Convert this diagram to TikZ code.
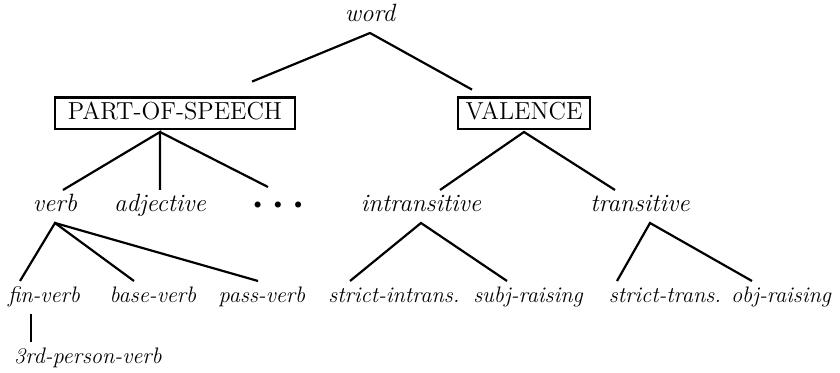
\documentclass[tikz,border=0pt]{standalone}
\usepackage{tikz}
\usetikzlibrary{positioning}

\begin{document}
\begin{tikzpicture}[
  x=0.5pt, y=-0.5pt,
  cat/.style={font=\fontsize{12.5}{14}\selectfont\itshape, inner sep=0pt, outer xsep=0pt,
              outer ysep=3pt, text height=8pt, text depth=2.5pt, anchor=base},
  leaf/.style={cat, font=\fontsize{11.2}{13}\selectfont\itshape},
  feat/.style={draw, line width=1.1pt, font=\fontsize{12.3}{14}\selectfont, inner xsep=4pt,
               inner ysep=3pt, text height=8.2pt, text depth=1.5pt, outer ysep=1.5pt, anchor=base},
  branch/.style={line width=1.1pt}
]
  \useasboundingbox (0,0) rectangle (840,373);

  % top and the two feature boxes
  \node[cat] (word) at (370,22) {word};
  \node[feat, inner xsep=6.5pt] (pos) at (175,120) {PART-OF-SPEECH};
  \node[feat] (val) at (524,120) {VALENCE};

  % second row
  \node[cat] (verb) at (55,212) {verb};
  \node[cat] (adj) at (160,212) {adjective};
  \node[cat, font=\fontsize{7}{8}\selectfont] (dots) at (278,209) {$\bullet$\hspace{6pt}$\bullet$\hspace{6pt}$\bullet$};
  \node[cat] (intr) at (421,212) {intransitive};
  \node[cat] (trans) at (640,212) {transitive};

  % third row
  \node[leaf] (finv) at (44,303) {fin-verb};
  \node[leaf] (basev) at (153,303) {base-verb};
  \node[leaf] (passv) at (262,303) {pass-verb};
  \node[leaf] (sintr) at (394,303) {strict-intrans.};
  \node[leaf] (subj) at (528,303) {subj-raising};
  \node[leaf] (strans) at (665,303) {strict-trans.};
  \node[leaf] (obj) at (781,303) {obj-raising};
  \node[leaf] (third) at (88,364) {3rd-person-verb};

  \draw[branch] ([shift={(38.5pt,6.5pt)}]pos.north) -- (word.south) -- ([shift={(-26pt,2.5pt)}]val.north);

  \draw[branch] ([xshift=4pt]verb.north) -- ([xshift=-7.5pt]pos.south) -- (adj.north);
  \draw[branch] ([xshift=-7.5pt]pos.south) -- ([xshift=-5pt]dots.north);
  \draw[branch] ([xshift=9.5pt]intr.north) -- (val.south) -- ([xshift=-12.5pt]trans.north);

  \draw[branch] ([xshift=-12pt]finv.north) -- (verb.south) -- ([xshift=-9.5pt]basev.north);
  \draw[branch] (verb.south) -- ([xshift=-2pt]passv.north);
  \draw[branch] ([xshift=-22pt]sintr.north) -- (intr.south) -- ([xshift=-10.5pt]subj.north);
  \draw[branch] ([xshift=-24pt]strans.north) -- ([xshift=5pt]trans.south) -- ([xshift=-14.5pt]obj.north);

  \draw[branch] ([xshift=-6.5pt]finv.south) -- ([xshift=-6.5pt]finv.south |- third.north);
\end{tikzpicture}
\end{document}
